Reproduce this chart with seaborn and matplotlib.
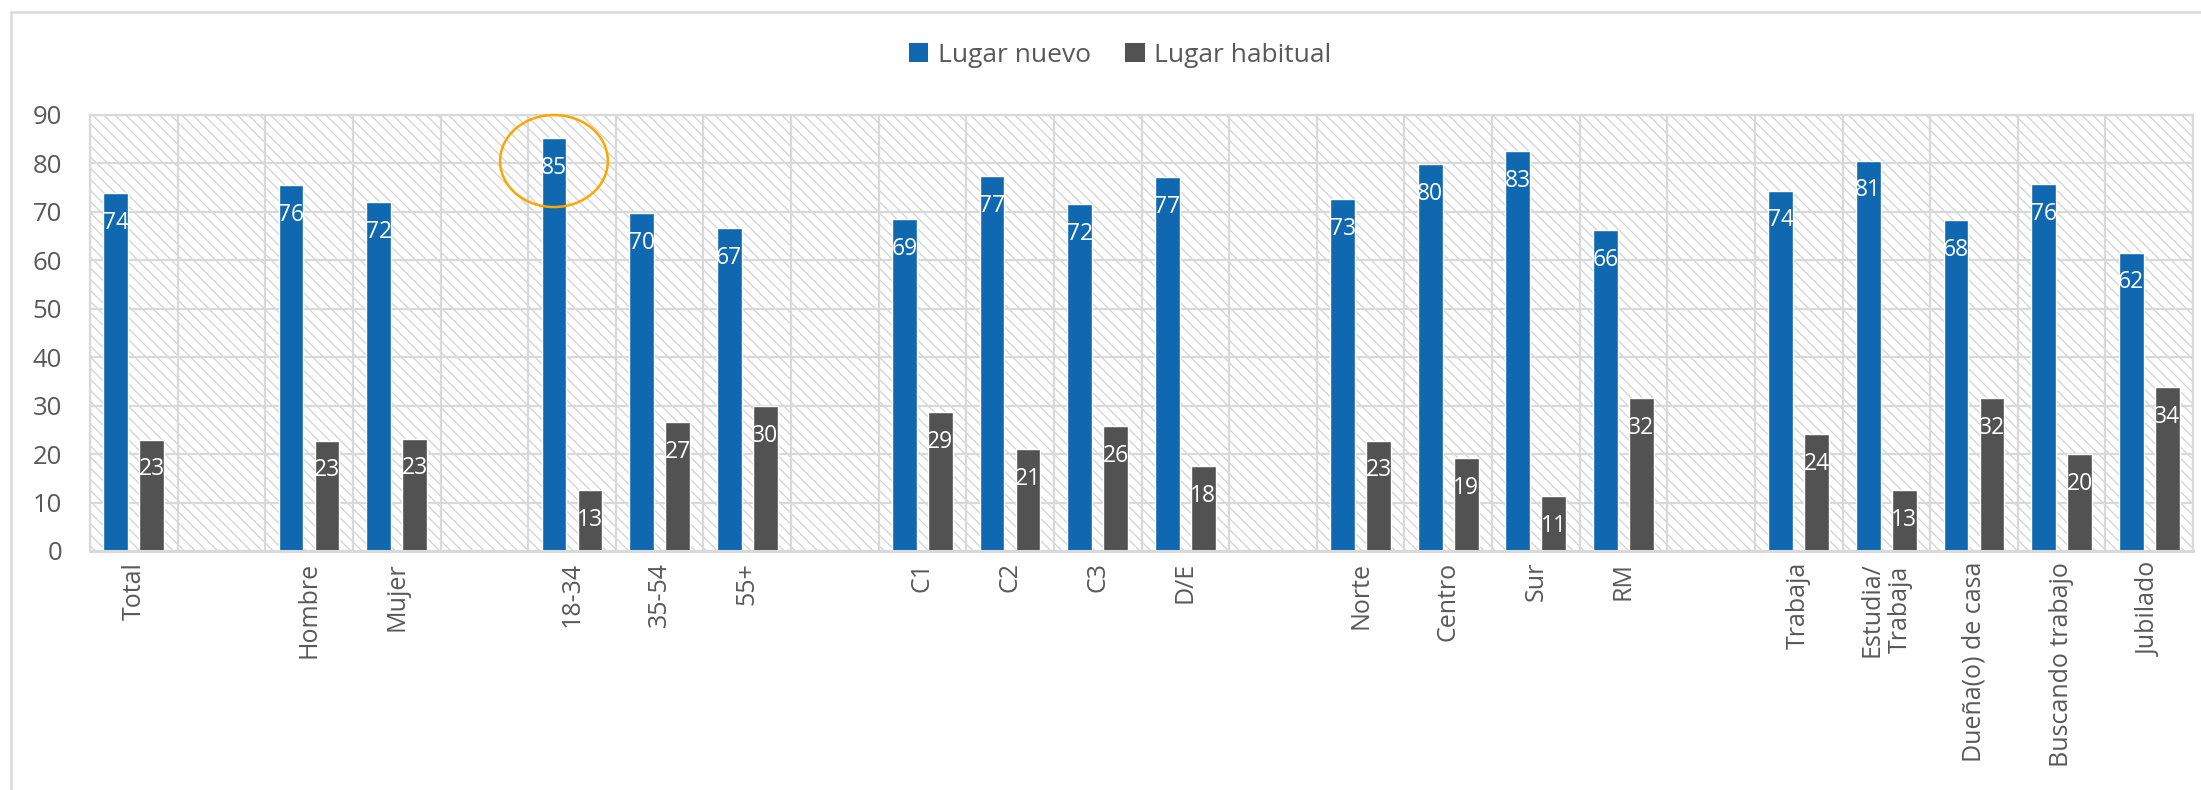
import matplotlib
matplotlib.use("Agg")
import matplotlib.pyplot as plt
import seaborn as sns
import pandas as pd
import numpy as np
from matplotlib.patches import Ellipse, Rectangle
from matplotlib.lines import Line2D

# ---- data ----
categories = ["Total", " ", "Hombre", "Mujer", "  ", "18-34", "35-54", "55+", "   ",
              "C1", "C2", "C3", "D/E", "    ", "Norte", "Centro", "Sur", "RM", "     ",
              "Trabaja", "Estudia/\nTrabaja", "Dueña(o) de casa", "Buscando trabajo", "Jubilado"]
groups = [c for c in categories if c.strip()]
lugar_nuevo = [73.8, 75.6, 72.1, 85.2, 69.7, 66.6, 68.6, 77.4, 71.7, 77.2,
               72.7, 79.8, 82.6, 66.3, 74.4, 80.6, 68.4, 75.7, 61.6]
lugar_habitual = [23.0, 22.8, 23.2, 12.6, 26.6, 30.0, 28.6, 21.1, 25.8, 17.6,
                  22.8, 19.1, 11.4, 31.6, 24.1, 12.6, 31.5, 20.0, 33.8]
series = ["Lugar nuevo", "Lugar habitual"]
colors = ["#1068B1", "#525252"]
yticks = list(range(0, 100, 10))

df = pd.DataFrame({
    "Grupo": groups * 2,
    "Serie": [series[0]] * len(groups) + [series[1]] * len(groups),
    "Valor": lugar_nuevo + lugar_habitual,
})

sns.set_theme(style="white")
plt.rcParams["font.family"] = ["Open Sans", "DejaVu Sans"]
plt.rcParams["hatch.linewidth"] = 0.9
plt.rcParams["hatch.color"] = "#d2d2d2"

W, H = 2201, 790
fig = plt.figure(figsize=(W / 100, H / 100), dpi=100)
ax = fig.add_axes([90 / W, 1 - 551 / H, (2193 - 90) / W, (551 - 115) / H])

# hatched plot-area background
bg = Rectangle((0, 0), 1, 1, transform=ax.transAxes, facecolor="white",
               edgecolor="#d2d2d2", hatch="\\\\\\", lw=0, zorder=0)
ax.add_patch(bg)

sns.barplot(data=df, x="Grupo", y="Valor", hue="Serie", order=categories,
            hue_order=series, palette=colors, width=0.82, gap=0.31,
            saturation=1, errorbar=None, legend=False, ax=ax, zorder=2)

ax.set_xlim(-0.5, len(categories) - 0.5)
ax.set_ylim(0, 90)
ax.set_yticks(yticks)
ax.set_xticks(range(len(categories)))
ax.set_xticklabels(categories, rotation=90, ha="center", va="top",
                   multialignment="center", fontsize=18, color="#595959")
ax.set_xticks(np.arange(-0.5, len(categories), 1), minor=True)
ax.set_xlabel("")
ax.set_ylabel("")
ax.tick_params(axis="y", labelsize=18.5, labelcolor="#595959", length=0, pad=20)
ax.tick_params(axis="x", which="both", length=0, pad=8)

ax.set_axisbelow(True)
ax.yaxis.grid(True, color="#d9d9d9", lw=1.6)
ax.xaxis.grid(True, which="minor", color="#d9d9d9", lw=1.6)
ax.xaxis.grid(False, which="major")
for s in ax.spines.values():
    s.set_color("#d9d9d9")
    s.set_linewidth(1.6)
ax.spines["bottom"].set_linewidth(2.2)

# data labels (inside end, white)
for cont in ax.containers:
    for bar in cont:
        h = bar.get_height()
        if np.isnan(h) or h == 0:
            continue
        ax.annotate(f"{h:.0f}", (bar.get_x() + bar.get_width() / 2, h),
                    xytext=(0, -21.5), textcoords="offset points",
                    ha="center", va="center", color="white", fontsize=16.5, zorder=6)

# highlight ellipse around 18-34
idx = categories.index("18-34")
ax.add_patch(Ellipse((idx - 0.205, 80.5), 1.23, 19.0, fill=False,
                     edgecolor="#FFA500", lw=1.8, zorder=7, clip_on=False))

# legend
handles = [Rectangle((0, 0), 1, 1, facecolor=c, edgecolor="none") for c in colors]
fig.legend(handles, series, loc="center", bbox_to_anchor=(1120 / W, 1 - 55 / H),
           ncol=2, frameon=False, fontsize=19, labelcolor="#595959",
           handlelength=0.75, handleheight=0.75, handletextpad=0.35,
           columnspacing=1.3)

# outer chart frame (cut by the image edge on right and bottom)
fy = 1 - 12 / H
fx = 11 / W
fig.add_artist(Line2D([fx, 1.0], [fy, fy], transform=fig.transFigure,
                      color="#d9d9d9", lw=1.8))
fig.add_artist(Line2D([fx, fx], [0, fy], transform=fig.transFigure,
                      color="#d9d9d9", lw=1.8))

fig.savefig("out.png", dpi=100, facecolor="white")
